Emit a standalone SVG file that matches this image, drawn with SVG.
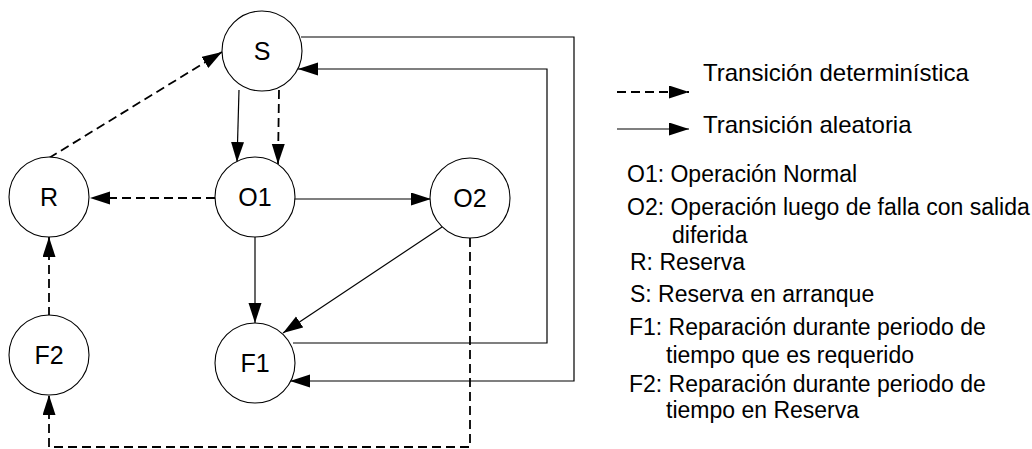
<svg xmlns="http://www.w3.org/2000/svg" width="1032" height="449" viewBox="0 0 1032 449">
<defs>
<marker id="ah" markerUnits="userSpaceOnUse" markerWidth="20" markerHeight="14" refX="20" refY="6.5" orient="auto">
<path d="M0,0 L20,6.5 L0,13 z" fill="#000"/>
</marker>
<style>
.node ellipse{fill:#fff;stroke:#000;stroke-width:1.1}
.node text{font-family:"Liberation Sans",Arial,sans-serif;font-size:25px;text-anchor:middle;fill:#000}
.sol{fill:none;stroke:#000;stroke-width:1.2;marker-end:url(#ah)}
.das{fill:none;stroke:#000;stroke-width:1.8;stroke-dasharray:9,5;marker-end:url(#ah)}
.leg{font-family:"Liberation Sans",Arial,sans-serif;font-size:24px;fill:#000}
.def{font-family:"Liberation Sans",Arial,sans-serif;font-size:23px;fill:#000}
</style>
</defs>
<rect width="1032" height="449" fill="#fff"/>
<g id="connectors">
<path class="sol" d="M239,90 L237,162"/>
<path class="das" d="M279,90 L278,164"/>
<path class="das" d="M49,158 L222,52"/>
<path class="das" d="M215,198 L90,198"/>
<path class="sol" d="M294,199 L431,199"/>
<path class="sol" d="M255,237 L255,323"/>
<path class="sol" d="M442,227 L283,333"/>
<path class="das" d="M470,238 L470,447 L49,447 L49,395"/>
<path class="das" d="M49,316 L49,237"/>
<path class="sol" d="M301,37 L574,37 L574,381 L290,381"/>
<path class="sol" d="M293,343 L547,343 L547,69 L298,69"/>
</g>
<g id="node-S" class="node"><ellipse cx="262" cy="51" rx="40" ry="40"/><text x="262" y="60">S</text></g>
<g id="node-R" class="node"><ellipse cx="49" cy="197" rx="40" ry="40"/><text x="49" y="206">R</text></g>
<g id="node-O1" class="node"><ellipse cx="255" cy="197" rx="40" ry="40"/><text x="255" y="206">O1</text></g>
<g id="node-O2" class="node"><ellipse cx="470" cy="198" rx="40" ry="40"/><text x="470" y="207">O2</text></g>
<g id="node-F2" class="node"><ellipse cx="49" cy="355" rx="40" ry="40"/><text x="49" y="364">F2</text></g>
<g id="node-F1" class="node"><ellipse cx="255" cy="363" rx="40" ry="40"/><text x="255" y="372">F1</text></g>
<g id="legend">
<path class="das" d="M617,92 L689,92"/>
<path class="sol" d="M617,129 L689,129"/>
<text class="leg" x="703" y="81">Transición determinística</text>
<text class="leg" x="703" y="133">Transición aleatoria</text>
<text class="def" x="627" y="182">O1: Operación Normal</text>
<text class="def" x="627" y="215">O2: Operación luego de falla con salida</text>
<text class="def" x="672" y="243">diferida</text>
<text class="def" x="630" y="270">R: Reserva</text>
<text class="def" x="630" y="302">S: Reserva en arranque</text>
<text class="def" x="629" y="335">F1: Reparación durante periodo de</text>
<text class="def" x="666" y="363">tiempo que es requerido</text>
<text class="def" x="629" y="392">F2: Reparación durante periodo de</text>
<text class="def" x="666" y="418">tiempo en Reserva</text>
</g>
</svg>
